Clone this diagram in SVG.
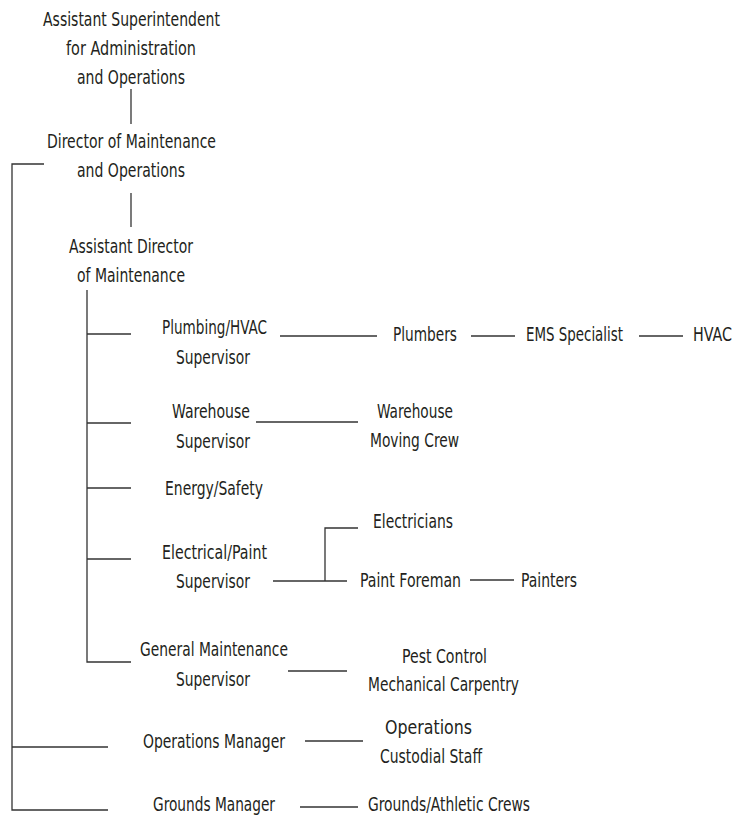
<svg xmlns="http://www.w3.org/2000/svg" width="741" height="815" viewBox="0 0 741 815">
<style>
text{font-family:"Liberation Sans Narrow","DejaVu Sans Condensed","DejaVu Sans",sans-serif;font-stretch:condensed;font-size:19.5px;fill:#231f20}
.c line,.c path{stroke:#333;stroke-width:1.3;fill:none}
</style>
<rect width="741" height="815" fill="#fff"/>
<g class="c" id="connectors">
<line x1="131" y1="89" x2="131" y2="124"/>
<path d="M44 164 H12 V810 H108"/>
<line x1="12" y1="747" x2="108" y2="747"/>
<line x1="131" y1="193" x2="131" y2="227"/>
<path d="M87 290 V662 H131"/>
<line x1="87" y1="334" x2="131" y2="334"/>
<line x1="87" y1="423" x2="131" y2="423"/>
<line x1="87" y1="488" x2="131" y2="488"/>
<line x1="87" y1="559" x2="131" y2="559"/>
<line x1="280" y1="336" x2="377" y2="336"/>
<line x1="471" y1="336" x2="515" y2="336"/>
<line x1="639" y1="336" x2="683" y2="336"/>
<line x1="256" y1="422" x2="358" y2="422"/>
<line x1="273" y1="581" x2="347" y2="581"/>
<path d="M325 581 V528 H358"/>
<line x1="470" y1="580" x2="514" y2="580"/>
<line x1="288" y1="671" x2="347" y2="671"/>
<line x1="305" y1="741" x2="363" y2="741"/>
<line x1="300" y1="807" x2="358" y2="807"/>
</g>
<g id="asst-superintendent">
<text x="43" y="26" textLength="177" lengthAdjust="spacingAndGlyphs">Assistant Superintendent</text>
<text x="66" y="55" textLength="130" lengthAdjust="spacingAndGlyphs">for Administration</text>
<text x="77" y="84" textLength="108" lengthAdjust="spacingAndGlyphs">and Operations</text>
</g>
<g id="director">
<text x="47" y="148" textLength="169" lengthAdjust="spacingAndGlyphs">Director of Maintenance</text>
<text x="77" y="177" textLength="108" lengthAdjust="spacingAndGlyphs">and Operations</text>
</g>
<g id="asst-director">
<text x="69" y="253" textLength="124" lengthAdjust="spacingAndGlyphs">Assistant Director</text>
<text x="77" y="282" textLength="108" lengthAdjust="spacingAndGlyphs">of Maintenance</text>
</g>
<g id="plumbing-sup">
<text x="162" y="334" textLength="105" lengthAdjust="spacingAndGlyphs">Plumbing/HVAC</text>
<text x="176" y="364" textLength="74" lengthAdjust="spacingAndGlyphs">Supervisor</text>
</g>
<g id="plumbers"><text x="393" y="341" textLength="64" lengthAdjust="spacingAndGlyphs">Plumbers</text></g>
<g id="ems"><text x="526" y="341" textLength="97" lengthAdjust="spacingAndGlyphs">EMS Specialist</text></g>
<g id="hvac"><text x="693" y="341" textLength="39" lengthAdjust="spacingAndGlyphs">HVAC</text></g>
<g id="warehouse-sup">
<text x="172" y="418" textLength="78" lengthAdjust="spacingAndGlyphs">Warehouse</text>
<text x="176" y="448" textLength="74" lengthAdjust="spacingAndGlyphs">Supervisor</text>
</g>
<g id="warehouse-crew">
<text x="377" y="418" textLength="76" lengthAdjust="spacingAndGlyphs">Warehouse</text>
<text x="370" y="447" textLength="89" lengthAdjust="spacingAndGlyphs">Moving Crew</text>
</g>
<g id="energy"><text x="165" y="495" textLength="98" lengthAdjust="spacingAndGlyphs">Energy/Safety</text></g>
<g id="electrical-sup">
<text x="162" y="559" textLength="105" lengthAdjust="spacingAndGlyphs">Electrical/Paint</text>
<text x="176" y="588" textLength="74" lengthAdjust="spacingAndGlyphs">Supervisor</text>
</g>
<g id="electricians"><text x="373" y="528" textLength="80" lengthAdjust="spacingAndGlyphs">Electricians</text></g>
<g id="paint-foreman"><text x="360" y="587" textLength="101" lengthAdjust="spacingAndGlyphs">Paint Foreman</text></g>
<g id="painters"><text x="521" y="587" textLength="56" lengthAdjust="spacingAndGlyphs">Painters</text></g>
<g id="general-sup">
<text x="140" y="656" textLength="148" lengthAdjust="spacingAndGlyphs">General Maintenance</text>
<text x="176" y="686" textLength="74" lengthAdjust="spacingAndGlyphs">Supervisor</text>
</g>
<g id="pest">
<text x="402" y="663" textLength="85" lengthAdjust="spacingAndGlyphs">Pest Control</text>
<text x="368" y="691" textLength="151" lengthAdjust="spacingAndGlyphs">Mechanical Carpentry</text>
</g>
<g id="ops-manager"><text x="143" y="748" textLength="142" lengthAdjust="spacingAndGlyphs">Operations Manager</text></g>
<g id="ops-staff">
<text x="385" y="734" textLength="87" lengthAdjust="spacingAndGlyphs">Operations</text>
<text x="380" y="763" textLength="102" lengthAdjust="spacingAndGlyphs">Custodial Staff</text>
</g>
<g id="grounds-manager"><text x="153" y="811" textLength="122" lengthAdjust="spacingAndGlyphs">Grounds Manager</text></g>
<g id="grounds-crews"><text x="368" y="811" textLength="162" lengthAdjust="spacingAndGlyphs">Grounds/Athletic Crews</text></g>
</svg>
